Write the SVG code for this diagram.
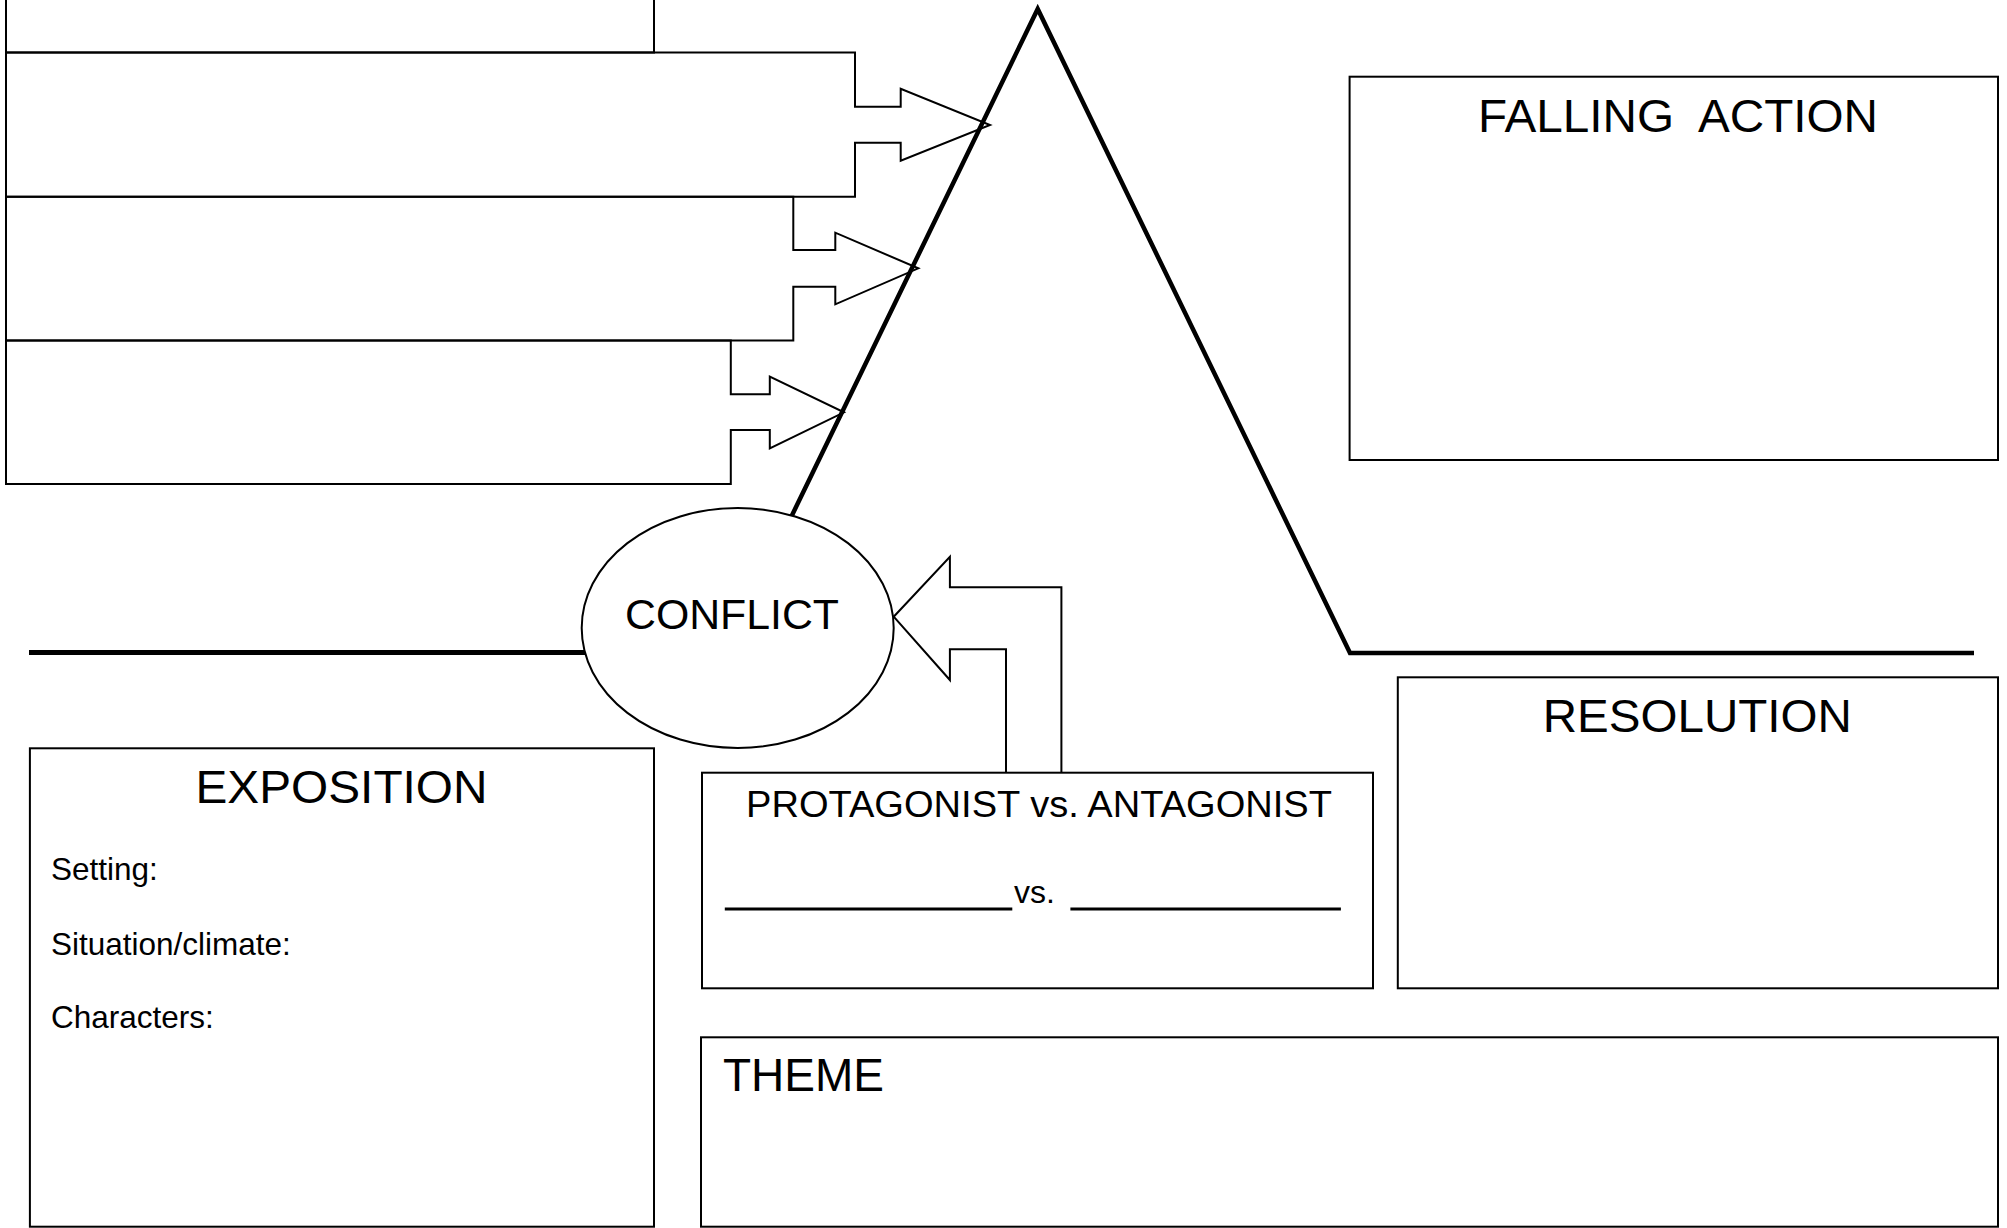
<svg xmlns="http://www.w3.org/2000/svg" width="2007" height="1228" viewBox="0 0 2007 1228">
<style>
.box{fill:none;stroke:#000;stroke-width:2}
.thick{fill:none;stroke:#000;stroke-width:4.5;stroke-linejoin:miter;stroke-miterlimit:10}
.t{font-family:"Liberation Sans",Arial,sans-serif;fill:#000}
.h{font-size:46px}
.s{font-size:31.5px}
</style>
<rect width="2007" height="1228" fill="#fff"/>
<g id="connectors">
<path class="thick" d="M780,540 L1037.7,9 L1350,653 L1974,653"/>
<line x1="29" y1="652.5" x2="600" y2="652.5" stroke="#000" stroke-width="5"/>
<path class="box" d="M893.7,616.7 L949.9,556.7 V587.3 H1061.4 V772.7 M1006,772.7 V649.3 H949.9 V680 L893.7,616.7"/>
</g>
<g id="event-box-0"><rect class="box" x="6" y="-10" width="648" height="62.5"/></g>
<g id="event-box-1"><path class="box" d="M6,52.5 H855 V106.7 H900.7 V88.7 L990,125 L900.7,160.7 V142.7 H855 V196.7 H6 Z"/></g>
<g id="event-box-2"><path class="box" d="M6,196.7 H793.3 V250 H835.3 V232.7 L918.3,268.3 L835.3,304.3 V286.7 H793.3 V340.5 H6 Z"/></g>
<g id="event-box-3"><path class="box" d="M6,340.5 H730.8 V394.3 H769.8 V376.7 L844,412.3 L769.8,448.3 V430 H730.8 V484 H6 Z"/></g>
<g id="conflict">
<ellipse cx="737.7" cy="628" rx="156" ry="120" fill="#fff" stroke="#000" stroke-width="2"/>
<text class="t" x="732" y="629" font-size="42" text-anchor="middle" textLength="214" lengthAdjust="spacingAndGlyphs">CONFLICT</text>
</g>
<g id="falling-action">
<rect class="box" x="1349.6" y="76.7" width="648.4" height="383.3"/>
<text class="t h" x="1678" y="131.7" text-anchor="middle" textLength="400" lengthAdjust="spacingAndGlyphs" style="white-space:pre">FALLING  ACTION</text>
</g>
<g id="resolution">
<rect class="box" x="1397.8" y="677.3" width="600.2" height="311"/>
<text class="t h" x="1697.3" y="731.7" text-anchor="middle" textLength="309" lengthAdjust="spacingAndGlyphs">RESOLUTION</text>
</g>
<g id="exposition">
<rect class="box" x="29.9" y="748.3" width="624.1" height="478.4"/>
<text class="t h" x="341.5" y="803.3" text-anchor="middle" textLength="292" lengthAdjust="spacingAndGlyphs">EXPOSITION</text>
<text class="t s" x="51" y="880">Setting:</text>
<text class="t s" x="51" y="955">Situation/climate:</text>
<text class="t s" x="51" y="1028.3">Characters:</text>
</g>
<g id="protagonist-antagonist">
<rect class="box" x="702" y="772.7" width="671" height="215.6"/>
<text class="t" x="1039" y="817.3" font-size="36" text-anchor="middle" textLength="586" lengthAdjust="spacingAndGlyphs">PROTAGONIST vs. ANTAGONIST</text>
<line x1="724.8" y1="909" x2="1012.3" y2="909" stroke="#000" stroke-width="3"/>
<text class="t" x="1014" y="903.3" font-size="32">vs.</text>
<line x1="1070.4" y1="909" x2="1340.9" y2="909" stroke="#000" stroke-width="3"/>
</g>
<g id="theme">
<rect class="box" x="701" y="1037.3" width="1297" height="189.4"/>
<text class="t" x="723" y="1091" font-size="46">THEME</text>
</g>
</svg>
